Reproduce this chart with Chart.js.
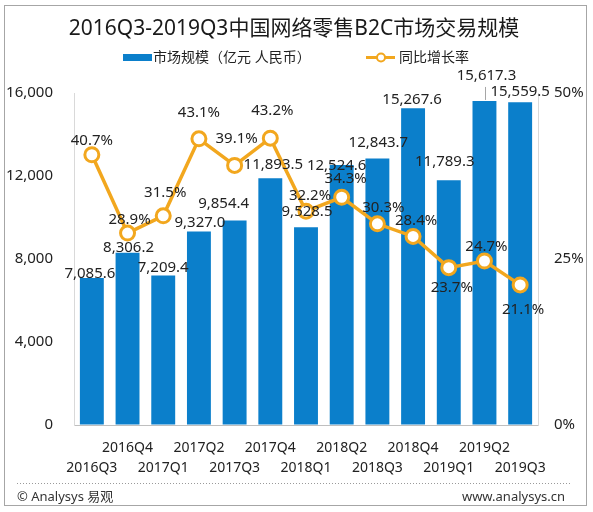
<!DOCTYPE html>
<html>
<head>
<meta charset="utf-8">
<script src="https://cdn.jsdelivr.net/npm/chart.js@4.4.1/dist/chart.umd.min.js"></script>
<style>
  html, body { margin: 0; padding: 0; background: #fff; }
  #wrap { position: relative; width: 593px; height: 512px; }
</style>
</head>
<body>
<div id="wrap"><canvas id="b2cChart" width="593" height="512"></canvas></div>
<script>
// 2016Q3-2019Q3 中国网络零售B2C市场交易规模
const quarters = ['2016Q3', '2016Q4', '2017Q1', '2017Q2', '2017Q3', '2017Q4', '2018Q1',
                  '2018Q2', '2018Q3', '2018Q4', '2019Q1', '2019Q2', '2019Q3'];
const marketSize = [7085.6, 8306.2, 7209.4, 9327.0, 9854.4, 11893.5, 9528.5,
                    12524.6, 12843.7, 15267.6, 11789.3, 15617.3, 15559.5];
const growthRate = [40.7, 28.9, 31.5, 43.1, 39.1, 43.2, 32.2, 34.3, 30.3, 28.4, 23.7, 24.7, 21.1];
const leftTicks = [0, 4000, 8000, 12000, 16000];
const rightTicks = [0, 25, 50];

const FONT = '"Noto Sans", "Noto Sans CJK SC", sans-serif';
const BLUE = '#0B7FCB';
const ORANGE = '#F2A71E';
const TEXT = '#222';

// ラベルの位置調整 [dx, dy(ベースライン)]
const barLabelShift = [[-2, 0], [1, -1], [0, -3], [1, -4], [-11, -13], [3, -9], [1, -11],
                       [-5, 5], [1, -11], [-1, -4], [-4, -14], [2, -21], [0, -6]];
const rateLabelShift = [[0, -10], [2, -9], [2, -19], [0, -22], [2, -22], [2, -23], [4, -11],
                        [4, -14], [6, -12], [3, -11], [3, 24], [2, -10], [3, 29]];

function fmtNum(v) {
  return v.toLocaleString('en-US', { minimumFractionDigits: 1, maximumFractionDigits: 1 });
}

// 数値ラベル・タイトル・凡例・フッター
const decorPlugin = {
  id: 'decor',
  beforeDraw(chart) {
    const c = chart.ctx;
    c.save();
    c.fillStyle = '#fff';
    c.fillRect(0, 0, chart.width, chart.height);
    c.strokeStyle = '#a6a6a6';
    c.lineWidth = 1;
    c.strokeRect(4.5, 5.5, 582, 500);
    c.restore();
  },
  afterDatasetsDraw(chart) {
    const c = chart.ctx;
    c.save();
    c.font = '15px ' + FONT;
    c.fillStyle = TEXT;
    c.textAlign = 'center';
    c.textBaseline = 'alphabetic';

    const bars = chart.getDatasetMeta(0).data;
    bars.forEach((bar, i) => {
      const s = barLabelShift[i];
      c.fillText(fmtNum(marketSize[i]), bar.x + s[0], bar.y + s[1]);
    });
    // 15,617.3 の引き出し線
    const b11 = bars[11];
    c.strokeStyle = '#a6a6a6';
    c.lineWidth = 1;
    c.beginPath();
    c.moveTo(Math.round(b11.x) + 1.5, b11.y - 14);
    c.lineTo(Math.round(b11.x) + 1.5, b11.y - 1);
    c.stroke();

    const pts = chart.getDatasetMeta(1).data;
    pts.forEach((p, i) => {
      const s = rateLabelShift[i];
      c.fillText(growthRate[i].toFixed(1) + '%', p.x + s[0], p.y + s[1]);
    });
    c.restore();
  },
  afterDraw(chart) {
    const c = chart.ctx;
    c.save();
    // タイトル
    c.fillStyle = '#1a1a1a';
    c.font = '21px ' + FONT;
    c.textAlign = 'center';
    c.textBaseline = 'middle';
    c.fillText(chart.options.plugins.title.text, 294, 29);

    // 凡例
    c.font = '14px ' + FONT;
    c.textAlign = 'left';
    c.fillStyle = BLUE;
    c.fillRect(123, 54, 29, 7);
    c.fillStyle = TEXT;
    c.fillText(chart.data.datasets[0].label, 153, 58);
    c.strokeStyle = ORANGE;
    c.lineWidth = 3;
    c.beginPath();
    c.moveTo(366, 57.5);
    c.lineTo(395, 57.5);
    c.stroke();
    c.fillStyle = '#fff';
    c.lineWidth = 2;
    c.beginPath();
    c.arc(381, 57.5, 4, 0, Math.PI * 2);
    c.fill();
    c.stroke();
    c.fillStyle = TEXT;
    c.fillText(chart.data.datasets[1].label, 399, 58);

    // フッター
    c.strokeStyle = '#9a9a9a';
    c.lineWidth = 1;
    c.setLineDash([1, 2]);
    c.beginPath();
    c.moveTo(17, 483.5);
    c.lineTo(570, 483.5);
    c.stroke();
    c.setLineDash([]);
    c.font = '13px ' + FONT;
    c.fillStyle = '#333';
    c.textAlign = 'left';
    c.fillText('© Analysys 易观', 17, 497);
    c.textAlign = 'right';
    c.fillText('www.analysys.cn', 565, 497);
    c.restore();
  }
};

const ctx = document.getElementById('b2cChart').getContext('2d');
new Chart(ctx, {
  type: 'bar',
  data: {
    // 2段組みのX軸ラベル
    labels: quarters.map((q, i) => (i % 2 ? [q, ''] : ['', q])),
    datasets: [
      {
        type: 'bar',
        label: '市场规模（亿元 人民币）',
        data: marketSize,
        backgroundColor: BLUE,
        barPercentage: 0.67,
        categoryPercentage: 1,
        yAxisID: 'y',
        order: 1
      },
      {
        type: 'line',
        label: '同比增长率',
        data: growthRate,
        borderColor: ORANGE,
        borderWidth: 3.5,
        pointRadius: 7,
        pointBorderWidth: 3,
        pointBackgroundColor: '#fff',
        pointBorderColor: ORANGE,
        tension: 0,
        yAxisID: 'y1',
        order: 0
      }
    ]
  },
  options: {
    responsive: false,
    animation: false,
    devicePixelRatio: 1,
    layout: { padding: { top: 93, left: 0, right: 0, bottom: 0 } },
    plugins: {
      title: { display: false, text: '2016Q3-2019Q3中国网络零售B2C市场交易规模' },
      legend: { display: false },
      tooltip: { enabled: false }
    },
    scales: {
      x: {
        grid: { display: true, drawOnChartArea: false, drawTicks: false },
        border: { display: true, color: '#bfbfbf' },
        ticks: {
          autoSkip: false,
          maxRotation: 0,
          padding: 13,
          color: TEXT,
          font: { family: FONT, size: 14, lineHeight: 1.45 }
        },
        afterFit(scale) { scale.height = 87; }
      },
      y: {
        position: 'left',
        min: 0,
        max: 16000,
        afterBuildTicks(scale) { scale.ticks = leftTicks.map(v => ({ value: v })); },
        grid: { display: true, drawOnChartArea: false, drawTicks: false },
        border: { display: true, color: '#d9d9d9' },
        ticks: {
          padding: 21,
          color: TEXT,
          font: { family: FONT, size: 15 },
          callback: v => v.toLocaleString('en-US')
        },
        afterFit(scale) { scale.width = 74; }
      },
      y1: {
        position: 'right',
        min: 0,
        max: 50,
        afterBuildTicks(scale) { scale.ticks = rightTicks.map(v => ({ value: v })); },
        grid: { display: true, drawOnChartArea: false, drawTicks: false },
        border: { display: true, color: '#d9d9d9' },
        ticks: {
          padding: 16,
          color: TEXT,
          font: { family: FONT, size: 15 },
          callback: v => v + '%'
        },
        afterFit(scale) { scale.width = 55; }
      }
    }
  },
  plugins: [decorPlugin]
});
</script>
</body>
</html>
